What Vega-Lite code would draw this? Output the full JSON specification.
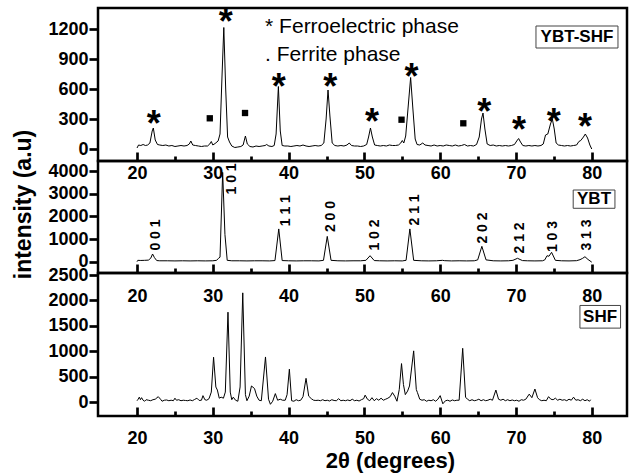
{
  "$schema": "https://vega.github.io/schema/vega-lite/v6.json",
  "background": "white",
  "bounds": "flush",
  "spacing": 0,
  "padding": {"left": 10, "top": 3, "right": 3, "bottom": 2},
  "config": {
    "font": "Liberation Sans",
    "view": {"stroke": "black", "strokeWidth": 2.5},
    "axis": {"grid": false, "domain": false, "tickColor": "black", "labelColor": "black", "labelFontSize": 18, "labelFontWeight": "bold", "labelFlush": false, "labelOverlap": false, "tickWidth": 2.7, "titleColor": "black"}
  },
  "datasets": {
    "ybtshf": [
      {"angle":20.0,"intensity":10},{"angle":20.2,"intensity":40},{"angle":20.5,"intensity":35},{"angle":20.8,"intensity":45},{"angle":21.1,"intensity":35},{"angle":21.4,"intensity":40},{"angle":21.7,"intensity":60},{"angle":22.0,"intensity":180},{"angle":22.15,"intensity":210},{"angle":22.4,"intensity":90},{"angle":22.7,"intensity":45},{"angle":23.0,"intensity":40},{"angle":23.4,"intensity":35},{"angle":23.8,"intensity":40},{"angle":24.2,"intensity":30},{"angle":24.6,"intensity":35},{"angle":25.0,"intensity":25},{"angle":25.4,"intensity":30},{"angle":25.8,"intensity":35},{"angle":26.2,"intensity":30},{"angle":26.6,"intensity":35},{"angle":26.9,"intensity":50},{"angle":27.1,"intensity":80},{"angle":27.35,"intensity":40},{"angle":27.7,"intensity":35},{"angle":28.1,"intensity":30},{"angle":28.5,"intensity":25},{"angle":28.9,"intensity":30},{"angle":29.3,"intensity":30},{"angle":29.6,"intensity":50},{"angle":29.8,"intensity":75},{"angle":30.0,"intensity":40},{"angle":30.3,"intensity":55},{"angle":30.7,"intensity":80},{"angle":30.95,"intensity":150},{"angle":31.2,"intensity":700},{"angle":31.45,"intensity":1215},{"angle":31.7,"intensity":600},{"angle":31.95,"intensity":120},{"angle":32.2,"intensity":70},{"angle":32.5,"intensity":30},{"angle":32.9,"intensity":15},{"angle":33.3,"intensity":20},{"angle":33.7,"intensity":25},{"angle":34.0,"intensity":40},{"angle":34.3,"intensity":130},{"angle":34.55,"intensity":50},{"angle":34.9,"intensity":25},{"angle":35.3,"intensity":20},{"angle":35.7,"intensity":30},{"angle":36.1,"intensity":25},{"angle":36.5,"intensity":30},{"angle":36.9,"intensity":35},{"angle":37.1,"intensity":45},{"angle":37.4,"intensity":30},{"angle":37.8,"intensity":25},{"angle":38.1,"intensity":35},{"angle":38.35,"intensity":150},{"angle":38.65,"intensity":625},{"angle":38.9,"intensity":180},{"angle":39.15,"intensity":35},{"angle":39.5,"intensity":30},{"angle":39.9,"intensity":30},{"angle":40.3,"intensity":25},{"angle":40.7,"intensity":30},{"angle":41.1,"intensity":35},{"angle":41.5,"intensity":30},{"angle":41.9,"intensity":40},{"angle":42.3,"intensity":30},{"angle":42.7,"intensity":25},{"angle":43.1,"intensity":30},{"angle":43.5,"intensity":35},{"angle":43.9,"intensity":30},{"angle":44.3,"intensity":35},{"angle":44.65,"intensity":60},{"angle":44.95,"intensity":300},{"angle":45.2,"intensity":590},{"angle":45.45,"intensity":330},{"angle":45.75,"intensity":60},{"angle":46.1,"intensity":35},{"angle":46.5,"intensity":30},{"angle":46.9,"intensity":35},{"angle":47.3,"intensity":30},{"angle":47.7,"intensity":40},{"angle":48.0,"intensity":60},{"angle":48.3,"intensity":35},{"angle":48.7,"intensity":30},{"angle":49.1,"intensity":30},{"angle":49.5,"intensity":25},{"angle":49.9,"intensity":30},{"angle":50.3,"intensity":45},{"angle":50.55,"intensity":120},{"angle":50.8,"intensity":210},{"angle":51.05,"intensity":120},{"angle":51.35,"intensity":40},{"angle":51.7,"intensity":35},{"angle":52.1,"intensity":30},{"angle":52.5,"intensity":35},{"angle":52.9,"intensity":30},{"angle":53.3,"intensity":40},{"angle":53.7,"intensity":35},{"angle":54.1,"intensity":35},{"angle":54.5,"intensity":40},{"angle":54.8,"intensity":60},{"angle":55.0,"intensity":85},{"angle":55.2,"intensity":60},{"angle":55.45,"intensity":130},{"angle":55.75,"intensity":400},{"angle":56.1,"intensity":715},{"angle":56.4,"intensity":400},{"angle":56.7,"intensity":100},{"angle":56.95,"intensity":45},{"angle":57.3,"intensity":40},{"angle":57.7,"intensity":60},{"angle":58.0,"intensity":40},{"angle":58.4,"intensity":35},{"angle":58.8,"intensity":30},{"angle":59.2,"intensity":40},{"angle":59.6,"intensity":30},{"angle":60.0,"intensity":35},{"angle":60.4,"intensity":30},{"angle":60.8,"intensity":40},{"angle":61.2,"intensity":35},{"angle":61.6,"intensity":30},{"angle":62.0,"intensity":40},{"angle":62.4,"intensity":30},{"angle":62.8,"intensity":35},{"angle":63.2,"intensity":45},{"angle":63.6,"intensity":30},{"angle":64.0,"intensity":35},{"angle":64.4,"intensity":30},{"angle":64.8,"intensity":45},{"angle":65.15,"intensity":120},{"angle":65.45,"intensity":300},{"angle":65.65,"intensity":360},{"angle":65.9,"intensity":200},{"angle":66.2,"intensity":50},{"angle":66.6,"intensity":35},{"angle":67.0,"intensity":40},{"angle":67.4,"intensity":30},{"angle":67.8,"intensity":35},{"angle":68.2,"intensity":30},{"angle":68.6,"intensity":35},{"angle":69.0,"intensity":30},{"angle":69.4,"intensity":35},{"angle":69.8,"intensity":45},{"angle":70.1,"intensity":80},{"angle":70.35,"intensity":105},{"angle":70.6,"intensity":70},{"angle":70.9,"intensity":35},{"angle":71.3,"intensity":30},{"angle":71.7,"intensity":35},{"angle":72.1,"intensity":30},{"angle":72.5,"intensity":35},{"angle":72.9,"intensity":30},{"angle":73.3,"intensity":35},{"angle":73.6,"intensity":50},{"angle":73.9,"intensity":140},{"angle":74.2,"intensity":150},{"angle":74.55,"intensity":250},{"angle":74.8,"intensity":300},{"angle":75.05,"intensity":200},{"angle":75.3,"intensity":60},{"angle":75.6,"intensity":40},{"angle":76.0,"intensity":35},{"angle":76.4,"intensity":30},{"angle":76.8,"intensity":35},{"angle":77.2,"intensity":30},{"angle":77.6,"intensity":35},{"angle":78.0,"intensity":40},{"angle":78.3,"intensity":75},{"angle":78.55,"intensity":85},{"angle":78.9,"intensity":120},{"angle":79.15,"intensity":150},{"angle":79.45,"intensity":110},{"angle":79.75,"intensity":40},{"angle":80.0,"intensity":0}
    ],
    "ybt": [
      {"angle":20.0,"intensity":0},{"angle":20.1,"intensity":60},{"angle":20.5,"intensity":55},{"angle":21.0,"intensity":60},{"angle":21.5,"intensity":70},{"angle":21.8,"intensity":150},{"angle":22.05,"intensity":340},{"angle":22.3,"intensity":180},{"angle":22.6,"intensity":50},{"angle":23.0,"intensity":40},{"angle":24,"intensity":40},{"angle":25,"intensity":35},{"angle":26,"intensity":40},{"angle":27,"intensity":35},{"angle":28,"intensity":40},{"angle":29,"intensity":35},{"angle":30,"intensity":40},{"angle":30.5,"intensity":60},{"angle":30.75,"intensity":150},{"angle":30.95,"intensity":200},{"angle":31.3,"intensity":3950},{"angle":31.6,"intensity":1200},{"angle":31.9,"intensity":60},{"angle":32.5,"intensity":40},{"angle":33.5,"intensity":40},{"angle":34.5,"intensity":35},{"angle":35.5,"intensity":40},{"angle":36.5,"intensity":40},{"angle":37.5,"intensity":35},{"angle":38.2,"intensity":50},{"angle":38.7,"intensity":1450},{"angle":39.15,"intensity":50},{"angle":40,"intensity":40},{"angle":41,"intensity":35},{"angle":42,"intensity":40},{"angle":43,"intensity":40},{"angle":44,"intensity":35},{"angle":44.6,"intensity":60},{"angle":45.1,"intensity":1120},{"angle":45.6,"intensity":60},{"angle":46.5,"intensity":40},{"angle":47.5,"intensity":35},{"angle":48.5,"intensity":40},{"angle":49.5,"intensity":40},{"angle":50.2,"intensity":60},{"angle":50.75,"intensity":265},{"angle":51.3,"intensity":50},{"angle":52,"intensity":40},{"angle":53,"intensity":35},{"angle":54,"intensity":40},{"angle":55,"intensity":35},{"angle":55.5,"intensity":60},{"angle":56.0,"intensity":1450},{"angle":56.5,"intensity":60},{"angle":57.5,"intensity":40},{"angle":58.5,"intensity":35},{"angle":59.5,"intensity":40},{"angle":60.3,"intensity":60},{"angle":60.6,"intensity":45},{"angle":61.5,"intensity":35},{"angle":62.5,"intensity":40},{"angle":63.5,"intensity":35},{"angle":64.5,"intensity":40},{"angle":64.95,"intensity":80},{"angle":65.5,"intensity":680},{"angle":66.05,"intensity":80},{"angle":67,"intensity":40},{"angle":68,"intensity":35},{"angle":69,"intensity":40},{"angle":69.6,"intensity":60},{"angle":70.2,"intensity":150},{"angle":70.85,"intensity":50},{"angle":71.5,"intensity":40},{"angle":72.5,"intensity":35},{"angle":73.5,"intensity":40},{"angle":73.8,"intensity":80},{"angle":74.1,"intensity":265},{"angle":74.35,"intensity":240},{"angle":74.7,"intensity":415},{"angle":75.2,"intensity":60},{"angle":76,"intensity":40},{"angle":77,"intensity":35},{"angle":78,"intensity":45},{"angle":78.45,"intensity":90},{"angle":78.8,"intensity":150},{"angle":79.1,"intensity":220},{"angle":79.5,"intensity":100},{"angle":80.0,"intensity":-20}
    ],
    "shf": [
      {"angle":20.0,"intensity":30},{"angle":20.15,"intensity":60},{"angle":20.3,"intensity":100},{"angle":20.45,"intensity":50},{"angle":20.6,"intensity":90},{"angle":20.8,"intensity":40},{"angle":21.0,"intensity":20},{"angle":21.2,"intensity":50},{"angle":21.5,"intensity":40},{"angle":21.8,"intensity":30},{"angle":22.1,"intensity":50},{"angle":22.4,"intensity":60},{"angle":22.8,"intensity":110},{"angle":23.1,"intensity":60},{"angle":23.3,"intensity":20},{"angle":23.6,"intensity":40},{"angle":23.9,"intensity":45},{"angle":24.2,"intensity":30},{"angle":24.5,"intensity":40},{"angle":24.8,"intensity":30},{"angle":25.0,"intensity":80},{"angle":25.2,"intensity":40},{"angle":25.5,"intensity":50},{"angle":25.8,"intensity":30},{"angle":26.1,"intensity":40},{"angle":26.4,"intensity":35},{"angle":26.7,"intensity":30},{"angle":27.0,"intensity":45},{"angle":27.3,"intensity":30},{"angle":27.6,"intensity":55},{"angle":27.9,"intensity":80},{"angle":28.2,"intensity":35},{"angle":28.5,"intensity":40},{"angle":28.7,"intensity":130},{"angle":28.95,"intensity":50},{"angle":29.2,"intensity":40},{"angle":29.5,"intensity":70},{"angle":29.8,"intensity":200},{"angle":30.1,"intensity":885},{"angle":30.4,"intensity":300},{"angle":30.6,"intensity":240},{"angle":30.85,"intensity":80},{"angle":31.1,"intensity":100},{"angle":31.4,"intensity":80},{"angle":31.65,"intensity":200},{"angle":32.0,"intensity":1770},{"angle":32.3,"intensity":200},{"angle":32.5,"intensity":50},{"angle":32.7,"intensity":100},{"angle":33.0,"intensity":40},{"angle":33.3,"intensity":20},{"angle":33.6,"intensity":300},{"angle":33.95,"intensity":2150},{"angle":34.3,"intensity":150},{"angle":34.5,"intensity":30},{"angle":34.8,"intensity":120},{"angle":35.1,"intensity":320},{"angle":35.5,"intensity":270},{"angle":35.8,"intensity":120},{"angle":36.1,"intensity":40},{"angle":36.4,"intensity":30},{"angle":36.95,"intensity":890},{"angle":37.35,"intensity":60},{"angle":37.6,"intensity":-40},{"angle":37.9,"intensity":20},{"angle":38.25,"intensity":170},{"angle":38.55,"intensity":40},{"angle":38.9,"intensity":60},{"angle":39.2,"intensity":40},{"angle":39.55,"intensity":40},{"angle":39.8,"intensity":150},{"angle":40.1,"intensity":650},{"angle":40.4,"intensity":30},{"angle":40.7,"intensity":20},{"angle":41.0,"intensity":50},{"angle":41.3,"intensity":30},{"angle":41.6,"intensity":40},{"angle":41.9,"intensity":110},{"angle":42.3,"intensity":470},{"angle":42.65,"intensity":120},{"angle":43.0,"intensity":70},{"angle":43.3,"intensity":40},{"angle":43.6,"intensity":35},{"angle":43.9,"intensity":40},{"angle":44.2,"intensity":30},{"angle":44.5,"intensity":50},{"angle":44.8,"intensity":30},{"angle":45.1,"intensity":40},{"angle":45.4,"intensity":25},{"angle":45.7,"intensity":50},{"angle":46.0,"intensity":35},{"angle":46.3,"intensity":30},{"angle":46.6,"intensity":70},{"angle":46.9,"intensity":30},{"angle":47.2,"intensity":40},{"angle":47.5,"intensity":30},{"angle":47.8,"intensity":45},{"angle":48.1,"intensity":30},{"angle":48.4,"intensity":60},{"angle":48.7,"intensity":30},{"angle":49.0,"intensity":40},{"angle":49.3,"intensity":25},{"angle":49.6,"intensity":50},{"angle":49.9,"intensity":70},{"angle":50.1,"intensity":140},{"angle":50.4,"intensity":60},{"angle":50.7,"intensity":30},{"angle":51.0,"intensity":90},{"angle":51.3,"intensity":30},{"angle":51.6,"intensity":70},{"angle":51.9,"intensity":40},{"angle":52.2,"intensity":80},{"angle":52.5,"intensity":40},{"angle":52.8,"intensity":60},{"angle":53.1,"intensity":80},{"angle":53.4,"intensity":110},{"angle":53.7,"intensity":190},{"angle":54.0,"intensity":120},{"angle":54.3,"intensity":20},{"angle":54.6,"intensity":250},{"angle":54.9,"intensity":760},{"angle":55.15,"intensity":350},{"angle":55.4,"intensity":150},{"angle":55.7,"intensity":220},{"angle":55.95,"intensity":320},{"angle":56.5,"intensity":1010},{"angle":56.85,"intensity":250},{"angle":57.0,"intensity":190},{"angle":57.3,"intensity":60},{"angle":57.6,"intensity":40},{"angle":57.9,"intensity":50},{"angle":58.2,"intensity":20},{"angle":58.5,"intensity":40},{"angle":58.8,"intensity":30},{"angle":59.1,"intensity":50},{"angle":59.4,"intensity":20},{"angle":59.7,"intensity":60},{"angle":60.0,"intensity":130},{"angle":60.35,"intensity":-30},{"angle":60.7,"intensity":30},{"angle":61.0,"intensity":40},{"angle":61.3,"intensity":20},{"angle":61.6,"intensity":45},{"angle":61.9,"intensity":30},{"angle":62.2,"intensity":40},{"angle":62.5,"intensity":40},{"angle":62.97,"intensity":1060},{"angle":63.35,"intensity":100},{"angle":63.6,"intensity":60},{"angle":63.9,"intensity":30},{"angle":64.2,"intensity":50},{"angle":64.5,"intensity":30},{"angle":64.8,"intensity":40},{"angle":65.1,"intensity":60},{"angle":65.4,"intensity":30},{"angle":65.7,"intensity":50},{"angle":66.0,"intensity":30},{"angle":66.3,"intensity":40},{"angle":66.6,"intensity":60},{"angle":66.9,"intensity":40},{"angle":67.35,"intensity":240},{"angle":67.7,"intensity":60},{"angle":68.0,"intensity":40},{"angle":68.3,"intensity":60},{"angle":68.6,"intensity":30},{"angle":68.9,"intensity":50},{"angle":69.2,"intensity":30},{"angle":69.5,"intensity":45},{"angle":69.8,"intensity":30},{"angle":70.1,"intensity":40},{"angle":70.4,"intensity":20},{"angle":70.7,"intensity":50},{"angle":71.0,"intensity":40},{"angle":71.3,"intensity":60},{"angle":71.75,"intensity":160},{"angle":72.1,"intensity":90},{"angle":72.5,"intensity":260},{"angle":72.85,"intensity":90},{"angle":73.1,"intensity":50},{"angle":73.4,"intensity":30},{"angle":73.7,"intensity":40},{"angle":74.0,"intensity":30},{"angle":74.3,"intensity":110},{"angle":74.6,"intensity":60},{"angle":74.9,"intensity":50},{"angle":75.2,"intensity":80},{"angle":75.5,"intensity":40},{"angle":75.8,"intensity":60},{"angle":76.1,"intensity":40},{"angle":76.4,"intensity":50},{"angle":76.7,"intensity":30},{"angle":77.0,"intensity":60},{"angle":77.3,"intensity":40},{"angle":77.6,"intensity":100},{"angle":77.9,"intensity":40},{"angle":78.2,"intensity":50},{"angle":78.5,"intensity":30},{"angle":78.8,"intensity":60},{"angle":79.1,"intensity":30},{"angle":79.4,"intensity":50},{"angle":79.7,"intensity":20},{"angle":79.85,"intensity":50}
    ],
    "stars": [
      {"angle":22.2,"intensity":333},{"angle":31.7,"intensity":1350},{"angle":38.7,"intensity":700},{"angle":45.5,"intensity":700},{"angle":51.0,"intensity":350},{"angle":56.2,"intensity":800},{"angle":65.8,"intensity":450},{"angle":70.4,"intensity":267},{"angle":75.0,"intensity":350},{"angle":79.1,"intensity":300}
    ],
    "ferrite": [
      {"angle":29.6,"intensity":307},{"angle":34.25,"intensity":360},{"angle":54.9,"intensity":293},{"angle":63.05,"intensity":257}
    ],
    "legendtext": [
      {"angle":36.9,"intensity":1160,"label":"* Ferroelectric phase"},
      {"angle":36.9,"intensity":880,"label":". Ferrite phase"}
    ],
    "box1": [{"angle":72.64,"angle2":83.46,"intensity":1010,"intensity2":1230,"mid":78.05,"midy":1120,"label":"YBT-SHF"}],
    "box2": [{"angle":77.55,"angle2":83.06,"intensity":2363,"intensity2":3172,"mid":80.3,"midy":2774,"label":"YBT"}],
    "box3": [{"angle":78.44,"angle2":83.8,"intensity":1457,"intensity2":1902,"mid":81.1,"midy":1679,"label":"SHF"}],
    "miller": [
      {"angle":22.5,"intensity":1181,"label":"0 0 1"},
      {"angle":32.5,"intensity":3660,"label":"1 0 1"},
      {"angle":39.65,"intensity":2257,"label":"1 1 1"},
      {"angle":45.6,"intensity":2000,"label":"2 0 0"},
      {"angle":51.4,"intensity":1181,"label":"1 0 2"},
      {"angle":56.7,"intensity":2288,"label":"2 1 1"},
      {"angle":65.6,"intensity":1490,"label":"2 0 2"},
      {"angle":70.5,"intensity":1050,"label":"2 1 2"},
      {"angle":74.95,"intensity":1115,"label":"1 0 3"},
      {"angle":79.4,"intensity":1181,"label":"3 1 3"}
    ]
  },
  "resolve": {"scale": {"x": "independent", "y": "independent"}, "axis": {"x": "independent", "y": "independent"}},
  "vconcat": [
    {
      "width": 529,
      "height": 153,
      "layer": [
        {
          "data": {"name": "ybtshf"},
          "mark": {"type": "line", "color": "black", "strokeWidth": 1},
          "encoding": {
            "x": {"field": "angle", "type": "quantitative", "scale": {"domain": [14.85, 84.65], "nice": false, "zero": false},
              "axis": {"title": null, "values": [20,25,30,35,40,45,50,55,60,65,70,75,80], "tickCount": 30, "labelExpr": "datum.value % 10 === 0 ? datum.label : ''", "labelOverlap": false,
                "tickSize": {"condition": {"test": "datum.value % 10 === 0", "value": -9}, "value": -5}, "labelPadding": 12}},
            "y": {"field": "intensity", "type": "quantitative", "scale": {"domain": [-120, 1410], "nice": false, "zero": false},
              "axis": {"title": null, "values": [0,300,600,900,1200], "tickCount": 20, "format": "d", "labelOverlap": false, "tickSize": 9, "labelPadding": 1}}
          }
        },
        {
          "data": {"name": "stars"},
          "mark": {"type": "text", "text": "*", "fontSize": 36, "fontWeight": "bold", "color": "black", "align": "center", "baseline": "middle", "dy": 9},
          "encoding": {"x": {"field": "angle", "type": "quantitative"}, "y": {"field": "intensity", "type": "quantitative"}}
        },
        {
          "data": {"name": "ferrite"},
          "mark": {"type": "point", "shape": "square", "filled": true, "size": 40, "color": "black", "opacity": 1},
          "encoding": {"x": {"field": "angle", "type": "quantitative"}, "y": {"field": "intensity", "type": "quantitative"}}
        },
        {
          "data": {"name": "legendtext"},
          "mark": {"type": "text", "fontSize": 21, "color": "black", "align": "left", "baseline": "alphabetic"},
          "encoding": {"x": {"field": "angle", "type": "quantitative"}, "y": {"field": "intensity", "type": "quantitative"}, "text": {"field": "label"}}
        },
        {
          "data": {"name": "box1"},
          "mark": {"type": "rect", "fill": "white", "stroke": "#444444", "strokeWidth": 1},
          "encoding": {"x": {"field": "angle", "type": "quantitative"}, "x2": {"field": "angle2"}, "y": {"field": "intensity", "type": "quantitative"}, "y2": {"field": "intensity2"}}
        },
        {
          "data": {"name": "box1"},
          "mark": {"type": "text", "fontSize": 17, "fontWeight": "bold", "color": "black", "align": "center", "baseline": "middle"},
          "encoding": {"x": {"field": "mid", "type": "quantitative"}, "y": {"field": "midy", "type": "quantitative"}, "text": {"field": "label"}}
        }
      ]
    },
    {
      "width": 529,
      "height": 112,
      "layer": [
        {
          "data": {"name": "ybt"},
          "mark": {"type": "line", "color": "black", "strokeWidth": 1},
          "encoding": {
            "x": {"field": "angle", "type": "quantitative", "scale": {"domain": [14.85, 84.65], "nice": false, "zero": false},
              "axis": {"title": null, "values": [20,25,30,35,40,45,50,55,60,65,70,75,80], "tickCount": 30, "labelExpr": "datum.value % 10 === 0 ? datum.label : ''", "labelOverlap": false,
                "tickSize": {"condition": {"test": "datum.value % 10 === 0", "value": -9}, "value": -5}, "labelPadding": 23}},
            "y": {"field": "intensity", "type": "quantitative", "scale": {"domain": [-500, 4455], "nice": false, "zero": false},
              "axis": {"values": [0,1000,2000,3000,4000], "tickCount": 20, "format": "d", "labelOverlap": false, "tickSize": 9, "labelPadding": 1,
                "title": "intensity (a.u)", "titleFontSize": 23, "titleFontWeight": "bold", "titleX": -75, "titleY": 43, "titleAngle": 270, "titleAlign": "center", "titleBaseline": "middle"}}
          }
        },
        {
          "data": {"name": "miller"},
          "mark": {"type": "text", "fontSize": 14, "fontWeight": "bold", "color": "black", "align": "center", "baseline": "middle", "angle": 270},
          "encoding": {"x": {"field": "angle", "type": "quantitative"}, "y": {"field": "intensity", "type": "quantitative"}, "text": {"field": "label"}}
        },
        {
          "data": {"name": "box2"},
          "mark": {"type": "rect", "fill": "white", "stroke": "#444444", "strokeWidth": 1},
          "encoding": {"x": {"field": "angle", "type": "quantitative"}, "x2": {"field": "angle2"}, "y": {"field": "intensity", "type": "quantitative"}, "y2": {"field": "intensity2"}}
        },
        {
          "data": {"name": "box2"},
          "mark": {"type": "text", "fontSize": 17, "fontWeight": "bold", "color": "black", "align": "center", "baseline": "middle"},
          "encoding": {"x": {"field": "mid", "type": "quantitative"}, "y": {"field": "midy", "type": "quantitative"}, "text": {"field": "label"}}
        }
      ]
    },
    {
      "width": 529,
      "height": 143,
      "layer": [
        {
          "data": {"name": "shf"},
          "mark": {"type": "line", "color": "black", "strokeWidth": 1},
          "encoding": {
            "x": {"field": "angle", "type": "quantitative", "scale": {"domain": [14.85, 84.65], "nice": false, "zero": false},
              "axis": {"values": [20,25,30,35,40,45,50,55,60,65,70,75,80], "tickCount": 30, "labelExpr": "datum.value % 10 === 0 ? datum.label : ''", "labelOverlap": false,
                "tickSize": {"condition": {"test": "datum.value % 10 === 0", "value": -9}, "value": -5}, "labelPadding": 22,
                "title": "2θ (degrees)", "titleFontSize": 22, "titleFontWeight": "bold", "titleX": 292, "titleY": 51, "titleAlign": "center", "titleBaseline": "alphabetic"}},
            "y": {"field": "intensity", "type": "quantitative", "scale": {"domain": [-270, 2540], "nice": false, "zero": false},
              "axis": {"title": null, "values": [0,500,1000,1500,2000,2500], "tickCount": 20, "format": "d", "labelOverlap": false, "tickSize": 9, "labelPadding": 1}}
          }
        },
        {
          "data": {"name": "box3"},
          "mark": {"type": "rect", "fill": "white", "stroke": "#444444", "strokeWidth": 1},
          "encoding": {"x": {"field": "angle", "type": "quantitative"}, "x2": {"field": "angle2"}, "y": {"field": "intensity", "type": "quantitative"}, "y2": {"field": "intensity2"}}
        },
        {
          "data": {"name": "box3"},
          "mark": {"type": "text", "fontSize": 17, "fontWeight": "bold", "color": "black", "align": "center", "baseline": "middle"},
          "encoding": {"x": {"field": "mid", "type": "quantitative"}, "y": {"field": "midy", "type": "quantitative"}, "text": {"field": "label"}}
        }
      ]
    }
  ]
}
